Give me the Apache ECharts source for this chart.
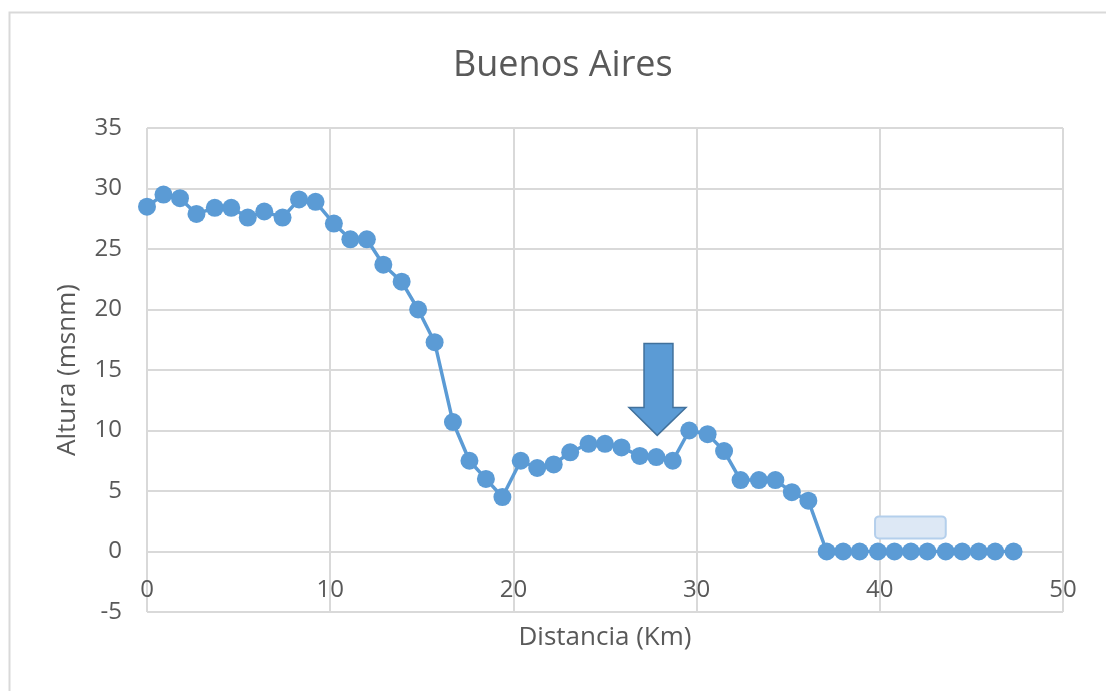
<!DOCTYPE html>
<html>
<head>
<meta charset="utf-8">
<script src="https://cdn.jsdelivr.net/npm/echarts@6/dist/echarts.min.js"></script>
<style>
html,body{margin:0;padding:0;background:#fff;}
#chart{width:1106px;height:691px;}
</style>
</head>
<body>
<div id="chart"></div>
<script>
const titleText = "Buenos Aires";
const xName = "Distancia (Km)";
const yName = "Altura (msnm)";
const distanceKm = [0, 0.9, 1.8, 2.7, 3.7, 4.6, 5.5, 6.4, 7.4, 8.3, 9.2, 10.2, 11.1, 12.0, 12.9, 13.9, 14.8, 15.7, 16.7, 17.6, 18.5, 19.4, 20.4, 21.3, 22.2, 23.1, 24.1, 25.0, 25.9, 26.9, 27.8, 28.7, 29.6, 30.6, 31.5, 32.4, 33.4, 34.3, 35.2, 36.1, 37.1, 38.0, 38.9, 39.9, 40.8, 41.7, 42.6, 43.6, 44.5, 45.4, 46.3, 47.3];
const alturaMsnm = [28.5, 29.5, 29.2, 27.9, 28.4, 28.4, 27.6, 28.1, 27.6, 29.1, 28.9, 27.1, 25.8, 25.8, 23.7, 22.3, 20.0, 17.3, 10.7, 7.5, 6.0, 4.5, 7.5, 6.9, 7.2, 8.2, 8.9, 8.9, 8.6, 7.9, 7.8, 7.5, 10.0, 9.7, 8.3, 5.9, 5.9, 5.9, 4.9, 4.2, 0, 0, 0, 0, 0, 0, 0, 0, 0, 0, 0, 0];
const xTicks = [0, 10, 20, 30, 40, 50];
const yTicks = [-5, 0, 5, 10, 15, 20, 25, 30, 35];

const FONT = "'Open Sans', 'Noto Sans', sans-serif";
const TXT = '#595959';
const GRID = '#d9d9d9';

const chart = echarts.init(document.getElementById('chart'), null, {renderer: 'canvas'});
const points = distanceKm.map((x, i) => [x, alturaMsnm[i]]);

chart.setOption({
  animation: false,
  backgroundColor: '#ffffff',
  title: {
    text: titleText, left: 448, top: 43,
    textStyle: {fontFamily: FONT, fontSize: 36, fontWeight: 'normal', color: TXT}
  },
  grid: {left: 147, right: 43, top: 128, bottom: 79, containLabel: false, outerBoundsMode: 'none'},
  xAxis: {
    type: 'value', min: xTicks[0], max: xTicks[xTicks.length - 1], interval: 10,
    position: 'bottom', offset: -60,
    name: xName, nameLocation: 'middle', nameGap: 73,
    nameTextStyle: {fontFamily: FONT, fontSize: 26, color: TXT},
    axisLine: {show: true, onZero: false, lineStyle: {color: GRID, width: 2}},
    axisTick: {show: false},
    axisLabel: {fontFamily: FONT, fontSize: 24, color: TXT, margin: 26},
    splitLine: {show: true, lineStyle: {color: GRID, width: 2}}
  },
  yAxis: {
    type: 'value', min: yTicks[0], max: yTicks[yTicks.length - 1], interval: 5,
    name: yName, nameLocation: 'middle', nameGap: 66, nameRotate: 90,
    nameTextStyle: {fontFamily: FONT, fontSize: 26, color: TXT},
    axisLine: {show: false, onZero: false},
    axisTick: {show: false},
    axisLabel: {fontFamily: FONT, fontSize: 24, color: TXT, margin: 25},
    splitLine: {show: true, lineStyle: {color: GRID, width: 2}}
  },
  series: [{
    type: 'line', data: points,
    symbol: 'circle', symbolSize: 18,
    lineStyle: {color: '#5b9bd5', width: 3.5},
    itemStyle: {color: '#5b9bd5'},
    z: 5
  }]
});

function px(x, y) { return chart.convertToPixel({gridIndex: 0}, [x, y]); }

// Down arrow annotation (data coordinates)
const arrowPts = [
  [27.13, 17.2], [28.71, 17.2], [28.71, 11.9], [29.42, 11.9],
  [27.85, 9.6], [26.31, 11.9], [27.13, 11.9]
].map(p => px(p[0], p[1]));
const boxA = px(39.74, 2.9), boxB = px(43.6, 1.08);

chart.setOption({
  graphic: [
    {type: 'rect', left: 7, top: 10, silent: true, z: 0,
      shape: {x: 0, y: 0, width: 1120, height: 700},
      style: {fill: 'none', stroke: GRID, lineWidth: 2}},
    {type: 'polygon', z: 100, shape: {points: arrowPts},
      style: {fill: '#5b9bd5', stroke: '#41719c', lineWidth: 1.5}},
    {type: 'rect', z: 100,
      shape: {x: boxA[0], y: boxA[1], width: boxB[0] - boxA[0], height: boxB[1] - boxA[1], r: 4},
      style: {fill: '#dde8f5', stroke: '#b4cfec', lineWidth: 2}}
  ]
});
</script>
</body>
</html>
